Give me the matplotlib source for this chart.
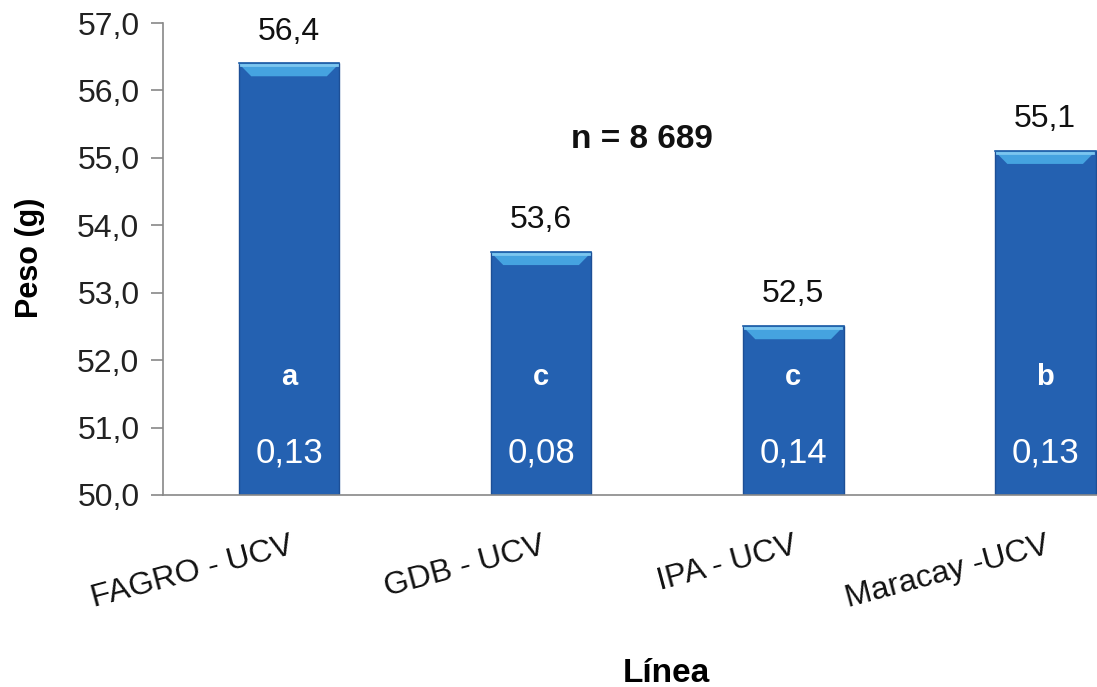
import matplotlib.pyplot as plt
from matplotlib.patches import Polygon

plt.rcParams['font.family'] = ['Liberation Sans', 'DejaVu Sans']

lineas = ["FAGRO - UCV", "GDB - UCV", "IPA - UCV", "Maracay -UCV"]
peso = [56.4, 53.6, 52.5, 55.1]
peso_txt = ["56,4", "53,6", "52,5", "55,1"]
letras = ["a", "c", "c", "b"]
ee_txt = ["0,13", "0,08", "0,14", "0,13"]
yticks = [50, 51, 52, 53, 54, 55, 56, 57]
ytick_txt = ["50,0", "51,0", "52,0", "53,0", "54,0", "55,0", "56,0", "57,0"]

fig = plt.figure(figsize=(10.97, 6.87), dpi=100)
ax = fig.add_axes([0.1486, 0.2795, 0.919, 0.687])

x = range(len(lineas))
w = 0.4
ax.bar(x, [p - 50 for p in peso], bottom=50, width=w, color="#2461b1",
       edgecolor="#1d4f96", linewidth=1.0, zorder=2)

# bevel on top of each bar
for i, p in enumerate(peso):
    l, r = i - w / 2, i + w / 2
    bev = Polygon([[l, p], [r, p], [r - 0.05, p - 0.19], [l + 0.05, p - 0.19]],
                  closed=True, facecolor="#45a3e0", edgecolor="none", zorder=3)
    ax.add_patch(bev)
    ax.plot([l + 0.01, r - 0.01], [p - 0.03, p - 0.03], color="#7cc6ef", lw=2, zorder=4)
    ax.plot([l, r], [p, p], color="#1f5fa8", lw=1.2, zorder=4)
    ax.annotate(peso_txt[i], (i, p), xytext=(0, 23), textcoords="offset points",
                ha="center", va="center", fontsize=23, color="#111111")
    ax.text(i, 51.75, letras[i], ha="center", va="center", fontsize=21,
            fontweight="bold", color="white", zorder=5)
    ax.text(i, 50.63, ee_txt[i], ha="center", va="center", fontsize=25,
            color="white", zorder=5)

ax.text(1.4, 55.27, "n = 8 689", ha="center", va="center", fontsize=24,
        fontweight="bold", color="#111111")

ax.set_xlim(-0.5, 3.5)
ax.set_ylim(50, 57)
ax.set_yticks(yticks)
ax.set_yticklabels(ytick_txt, fontsize=23, color="#222222")
ax.set_xticks(list(x))
ax.set_xticklabels(lineas, fontsize=23, rotation=15, ha="right",
                   rotation_mode="anchor", color="#111111")
ax.tick_params(axis="x", length=0, pad=26)
ax.tick_params(axis="y", length=9, width=1.2, color="#888888", pad=8)

for s in ["top", "right"]:
    ax.spines[s].set_visible(False)
for s in ["left", "bottom"]:
    ax.spines[s].set_color("#888888")
    ax.spines[s].set_linewidth(1.2)

fig.text(0.027, 0.625, "Peso (g)", rotation=90, ha="center", va="center",
         fontsize=22, fontweight="bold")
fig.text(0.607, 0.02, "Línea", ha="center", va="center",
         fontsize=24, fontweight="bold")

fig.savefig("out.png", dpi=100)
